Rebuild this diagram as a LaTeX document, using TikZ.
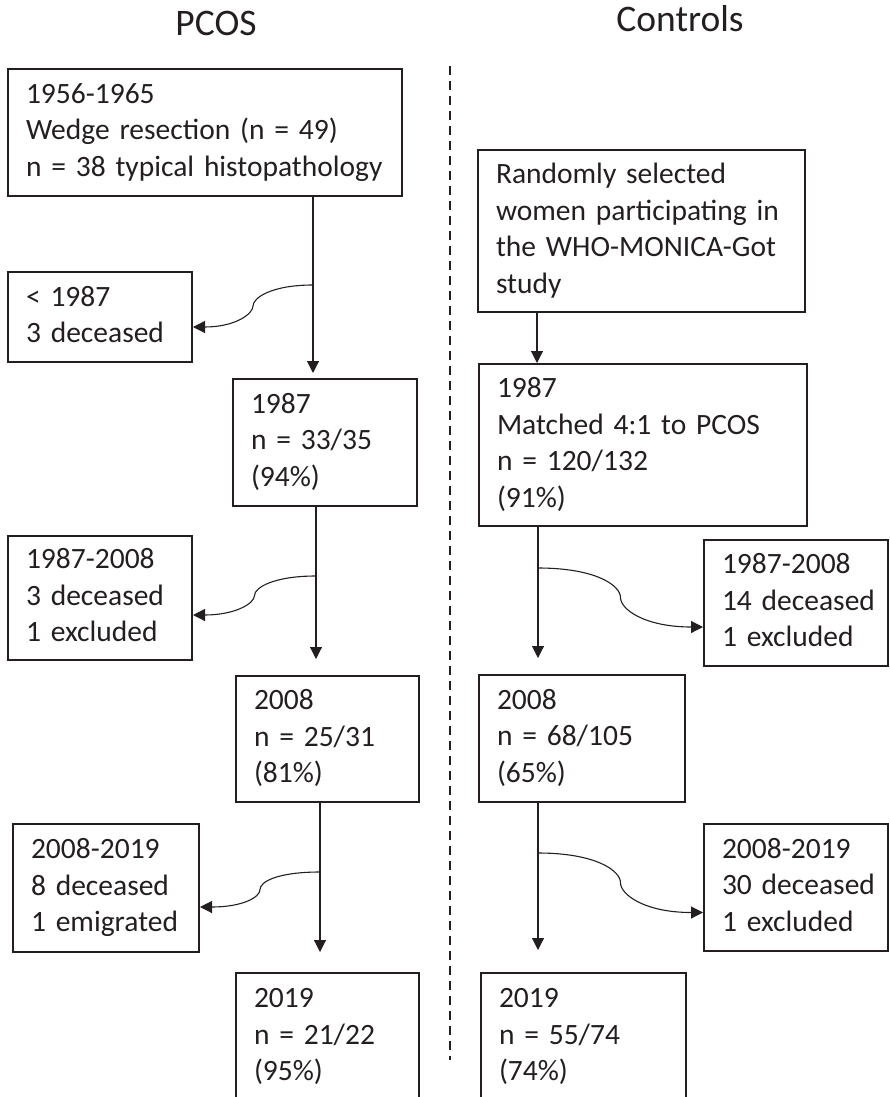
\documentclass[tikz,border=0pt]{standalone}
\usepackage{fontspec}
\setmainfont{Carlito}
\usetikzlibrary{arrows.meta,calc}
\definecolor{ink}{HTML}{231F20}
\newcommand\rowtxt[1]{\mbox{\strut #1}}
\begin{document}
\begin{tikzpicture}[x=1pt,y=-1pt,
  box/.style={draw=ink, line width=1.8pt, anchor=north west, align=left,
    inner xsep=18pt, inner ysep=0pt, outer sep=0pt,
    font=\fontsize{29.5}{36.5}\selectfont, text=ink},
  conn/.style={draw=ink, line width=1.1pt, -{Triangle[length=12pt,width=12pt]}},
  title/.style={font=\fontsize{37.5}{45}\selectfont, text=ink, anchor=base},
  sepline/.style={draw=ink, line width=1.3pt, dash pattern=on 9pt off 6pt}]
\useasboundingbox (0,0) rectangle (890,1097);

% titles
\node[title] (tp) at (216,36) {PCOS};
\node[title] (tc) at (680,32) {Controls};

% separator
\coordinate (s1) at (450,66);
\coordinate (s2) at (450,1060);
\draw[sepline] (s1) -- (s2);

% PCOS column
\node[box, minimum width=394, minimum height=127, text width=358] (p0) at (8,69)
  {\rowtxt{1956-1965}\\ \rowtxt{Wedge resection (n = 49)}\\ \rowtxt{n = 38 typical histopathology}};
\node[box, minimum width=184, minimum height=90, text width=148] (d1) at (8,272)
  {\rowtxt{< 1987}\\ \rowtxt{3 deceased}};
\node[box, minimum width=184, minimum height=127, text width=148] (p1) at (233,379)
  {\rowtxt{1987}\\ \rowtxt{n = 33/35}\\ \rowtxt{(94\%)}};
\node[box, minimum width=184, minimum height=124, text width=148] (d2) at (8,536)
  {\rowtxt{1987-2008}\\ \rowtxt{3 deceased}\\ \rowtxt{1 excluded}};
\node[box, minimum width=183, minimum height=126, text width=147] (p2) at (236,676)
  {\rowtxt{2008}\\ \rowtxt{n = 25/31}\\ \rowtxt{(81\%)}};
\node[box, minimum width=186, minimum height=128, text width=150] (d3) at (13,824)
  {\rowtxt{2008-2019}\\ \rowtxt{8 deceased}\\ \rowtxt{1 emigrated}};
\node[box, minimum width=183, minimum height=128, text width=147] (p3) at (236,973)
  {\rowtxt{2019}\\ \rowtxt{n = 21/22}\\ \rowtxt{(95\%)}};

% Controls column
\node[box, minimum width=327, minimum height=162, text width=291] (c0) at (478,150)
  {\rowtxt{Randomly selected}\\ \rowtxt{women participating in}\\ \rowtxt{the WHO-MONICA-Got}\\ \rowtxt{study}};
\node[box, minimum width=328, minimum height=162, text width=292] (c1) at (479,364)
  {\rowtxt{1987}\\ \rowtxt{Matched 4:1 to PCOS}\\ \rowtxt{n = 120/132}\\ \rowtxt{(91\%)}};
\node[box, minimum width=184, minimum height=126, text width=148] (e1) at (704,540)
  {\rowtxt{1987-2008}\\ \rowtxt{14 deceased}\\ \rowtxt{1 excluded}};
\node[box, minimum width=206, minimum height=127, text width=170] (c2) at (479,675)
  {\rowtxt{2008}\\ \rowtxt{n = 68/105}\\ \rowtxt{(65\%)}};
\node[box, minimum width=184, minimum height=127, text width=148] (e2) at (704,824)
  {\rowtxt{2008-2019}\\ \rowtxt{30 deceased}\\ \rowtxt{1 excluded}};
\node[box, minimum width=205, minimum height=128, text width=169] (c3) at (481,973)
  {\rowtxt{2019}\\ \rowtxt{n = 55/74}\\ \rowtxt{(74\%)}};

% PCOS vertical arrows
\coordinate (a1) at (313,373);
\coordinate (a2) at (316,659);
\coordinate (a3) at (320,952);
\draw[conn] (p0.south -| a1) -- (a1);
\draw[conn] (p1.south -| a2) -- (a2);
\draw[conn] (p2.south -| a3) -- (a3);

% Controls vertical arrows
\coordinate (a4) at (537,363);
\coordinate (a5) at (538,658);
\coordinate (a6) at (538,950);
\draw[conn] (c0.south -| a4) -- (a4);
\draw[conn] (c1.south -| a5) -- (a5);
\draw[conn] (c2.south -| a6) -- (a6);

% PCOS exclusion curves
\coordinate (b1) at (313,285);
\coordinate (t1) at ($(d1.east)+(1,10)$);
\coordinate (m1) at ($(b1)!0.5!(t1)$);
\draw[conn] (b1) .. controls +(-42,0) and +(0,-8) .. (m1) .. controls +(0,8) and +(42,0) .. (t1);
\coordinate (b2) at (316,576);
\coordinate (t2) at ($(d2.east)+(1,17)$);
\coordinate (m2) at ($(b2)!0.5!(t2)$);
\draw[conn] (b2) .. controls +(-42,0) and +(0,-8) .. (m2) .. controls +(0,8) and +(42,0) .. (t2);
\coordinate (b3) at (320,872);
\coordinate (t3) at ($(d3.east)+(1,19)$);
\coordinate (m3) at ($(b3)!0.5!(t3)$);
\draw[conn] (b3) .. controls +(-42,0) and +(0,-8) .. (m3) .. controls +(0,8) and +(42,0) .. (t3);

% Controls exclusion curves
\coordinate (b4) at (538,568);
\coordinate (t4) at ($(e1.west)+(-1,24)$);
\coordinate (m4) at ($(b4)!0.5!(t4)$);
\draw[conn] (b4) .. controls +(58,0) and +(0,-12) .. (m4) .. controls +(0,12) and +(-58,0) .. (t4);
\coordinate (b5) at (538,853);
\coordinate (t5) at ($(e2.west)+(-1,25)$);
\coordinate (m5) at ($(b5)!0.5!(t5)$);
\draw[conn] (b5) .. controls +(58,0) and +(0,-12) .. (m5) .. controls +(0,12) and +(-58,0) .. (t5);
\end{tikzpicture}
\end{document}
